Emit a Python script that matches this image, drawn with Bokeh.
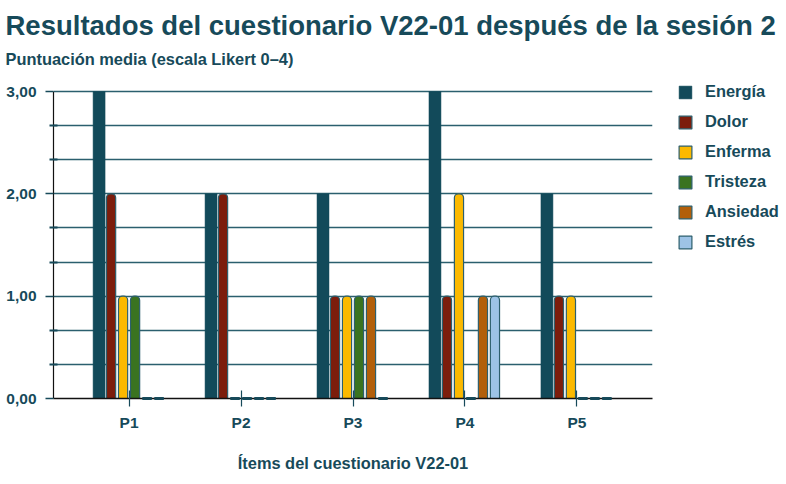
from bokeh.plotting import figure
from bokeh.models import (ColumnDataSource, FactorRange, Range1d, FixedTicker, CustomJSTickFormatter,
                          Legend, LegendItem, Title, CDSView, BooleanFilter)
from bokeh.transform import dodge
from bokeh.embed import file_html
from bokeh.resources import INLINE

categories = ["P1", "P2", "P3", "P4", "P5"]
series_names = ["Energía", "Dolor", "Enferma", "Tristeza", "Ansiedad", "Estrés"]
energia = [3, 2, 2, 3, 2]
dolor = [2, 2, 1, 1, 1]
enferma = [1, 0, 1, 2, 1]
tristeza = [1, 0, 1, 0, 0]
ansiedad = [0, 0, 1, 1, 0]
estres = [0, 0, 0, 1, 0]
y_ticks = [0, 1, 2, 3]

series = [energia, dolor, enferma, tristeza, ansiedad, estres]
colors = ["#124a5a", "#7c1d0c", "#fbb900", "#3a7320", "#b25f0a", "#9dc3e6"]
TEAL = "#174a5a"
FONT = "Liberation Sans"

data = dict(cat=categories)
for i, s in enumerate(series):
    data["s%d" % i] = s
src = ColumnDataSource(data)

p = figure(x_range=FactorRange(factors=categories, range_padding=0.175, range_padding_units="absolute"),
           y_range=Range1d(0, 3.186),
           frame_width=599, frame_height=326,
           min_border_left=53, min_border_right=134, min_border_bottom=0, min_border_top=0,
           output_backend="svg", toolbar_location=None,
           background_fill_color="white", border_fill_color="white", outline_line_color=None)

p.title.text = "Resultados del cuestionario V22-01 después de la sesión 2"
p.title.text_font = FONT
p.title.text_font_size = "27.5px"
p.title.text_font_style = "bold"
p.title.text_color = TEAL
p.title.align = "left"
p.title.offset = -48
p.title.standoff = 14
p.add_layout(Title(text="Puntuación media (escala Likert 0–4)",
                   text_font=FONT, text_font_size="16.4px", text_font_style="bold",
                   text_color=TEAL, align="left", offset=-48, standoff=5,
                   vertical_align="top"), "above")

pitch = 12 / 112
offsets = [(-2.5 + i) * pitch for i in range(6)]
renderers = []
for i, name in enumerate(series_names):
    xs = dodge("cat", offsets[i], range=p.x_range)
    if i == 0:
        r = p.vbar(x=xs, top="s%d" % i, width=0.107,
                   source=src, fill_color=colors[i], line_color=colors[i], line_width=0.5)
    else:
        r = p.vbar(x=xs, top="s%d" % i, width=0.082,
                   source=src, fill_color=colors[i], line_color="#2d5f6d", line_width=1.2,
                   border_radius=(4, 4, 0, 0))
        zero_view = CDSView(filter=BooleanFilter([v == 0 for v in series[i]]))
        p.vbar(x=xs, top="s%d" % i, width=0.085, source=src, view=zero_view,
               fill_color=None, line_color=TEAL, line_width=3, level="overlay")
    renderers.append(r)

legend = Legend(items=[LegendItem(label=n, renderers=[r]) for n, r in zip(series_names, renderers)],
                location=(25, 147), padding=0, margin=0, spacing=11,
                glyph_width=16, glyph_height=16, label_height=16, label_standoff=12,
                label_text_font=FONT, label_text_font_size="16.4px", label_text_font_style="bold",
                label_text_color=TEAL, border_line_color=None, background_fill_alpha=0)
p.add_layout(legend, "right")

# y axis
p.yaxis.bounds = (min(y_ticks), max(y_ticks))
p.yaxis.ticker = FixedTicker(ticks=y_ticks, minor_ticks=[1/3, 2/3, 4/3, 5/3, 7/3, 8/3])
p.yaxis.formatter = CustomJSTickFormatter(code="return tick.toFixed(2).replace('.', ',');")
p.yaxis.axis_line_color = "#111111"
p.yaxis.axis_line_width = 1.2
p.yaxis.major_tick_out = 8
p.yaxis.major_tick_in = 0
p.yaxis.major_tick_line_color = TEAL
p.yaxis.major_tick_line_width = 1.5
p.yaxis.minor_tick_out = 4
p.yaxis.minor_tick_in = 4
p.yaxis.minor_tick_line_color = TEAL
p.yaxis.minor_tick_line_width = 2
p.yaxis.major_label_standoff = 9
p.yaxis.major_label_text_font = FONT
p.yaxis.major_label_text_font_size = "15.5px"
p.yaxis.major_label_text_font_style = "bold"
p.yaxis.major_label_text_color = TEAL

# x axis
p.xaxis.axis_line_color = "#111111"
p.xaxis.axis_line_width = 1.5
p.xaxis.major_tick_in = 8
p.xaxis.major_tick_out = 8
p.xaxis.major_tick_line_color = TEAL
p.xaxis.major_tick_line_width = 1.2
p.xaxis.major_label_standoff = 7
p.xaxis.major_label_text_font = FONT
p.xaxis.major_label_text_font_size = "15.5px"
p.xaxis.major_label_text_font_style = "bold"
p.xaxis.major_label_text_color = TEAL
p.xaxis.axis_label = "Ítems del cuestionario V22-01"
p.xaxis.axis_label_text_font = FONT
p.xaxis.axis_label_text_font_size = "16.4px"
p.xaxis.axis_label_text_font_style = "bold"
p.xaxis.axis_label_text_color = TEAL
p.xaxis.axis_label_standoff = 20

p.xgrid.grid_line_color = None
p.ygrid.grid_line_color = "#2b5f6e"
p.ygrid.grid_line_width = 1.5
p.ygrid.minor_grid_line_color = "#2b5f6e"
p.ygrid.minor_grid_line_width = 1.5

open("out.html", "w").write(file_html(p, INLINE))
